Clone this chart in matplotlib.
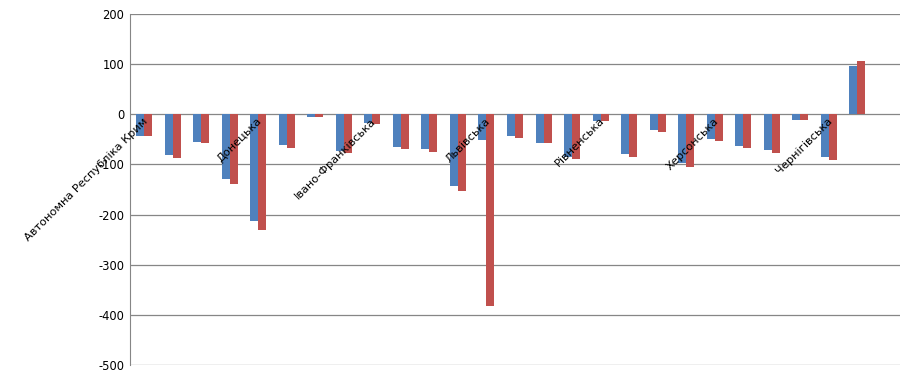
import numpy as np
import matplotlib
matplotlib.use("Agg")
import matplotlib.pyplot as plt

regions = ["Автономна Республіка Крим", "Вінницька", "Волинська", "Дніпропетровська",
           "Донецька", "Житомирська", "Закарпатська", "Запорізька",
           "Івано-Франківська", "Київська", "Кіровоградська", "Луганська",
           "Львівська", "Миколаївська", "Одеська", "Полтавська",
           "Рівненська", "Сумська", "Тернопільська", "Харківська",
           "Херсонська", "Хмельницька", "Черкаська", "Чернівецька",
           "Чернігівська", "м. Київ", "м. Севастополь"]
series_1 = [-43, -81, -55, -129, -213, -61, -5, -73, -17, -65, -69, -143, -51,
            -43, -57, -85, -13, -79, -31, -97, -50, -63, -71, -11, -85, 97, np.nan]
series_2 = [-43, -87, -57, -139, -231, -67, -5, -77, -19, -69, -75, -153, -383,
            -47, -57, -90, -13, -85, -35, -105, -53, -67, -77, -11, -91, 107, np.nan]
y_ticks = [200, 100, 0, -100, -200, -300, -400, -500]

plt.rcParams['font.family'] = ['DejaVu Sans']
fig = plt.figure(figsize=(9.18, 3.8), dpi=100)
ax = fig.add_axes([130 / 918, 15 / 380, 770 / 918, 351 / 380])

x = np.arange(len(regions))
w = 0.28
ax.bar(x - w / 2, series_1, w, color='#4F81BD', zorder=3)
ax.bar(x + w / 2, series_2, w, color='#C0504D', zorder=3)

ax.set_xlim(-0.5, len(regions) - 0.5)
ax.set_ylim(-500, 200)
ax.set_yticks(y_ticks)
ax.set_yticklabels([str(v) for v in y_ticks], fontsize=8.3)
ax.yaxis.grid(True, color='#868686', linewidth=0.9, zorder=0)
ax.set_xticks([])
ax.tick_params(axis='y', length=0, pad=4)

for s in ['top', 'right', 'bottom']:
    ax.spines[s].set_visible(False)
ax.spines['left'].set_color('#868686')

# category labels sit on the zero line, every 4th one
for i in range(0, len(regions), 4):
    ax.text(i - 0.05, -3, regions[i], rotation=45, rotation_mode='anchor',
            ha='right', va='top', fontsize=8.2)

fig.savefig("out.png", dpi=100)
